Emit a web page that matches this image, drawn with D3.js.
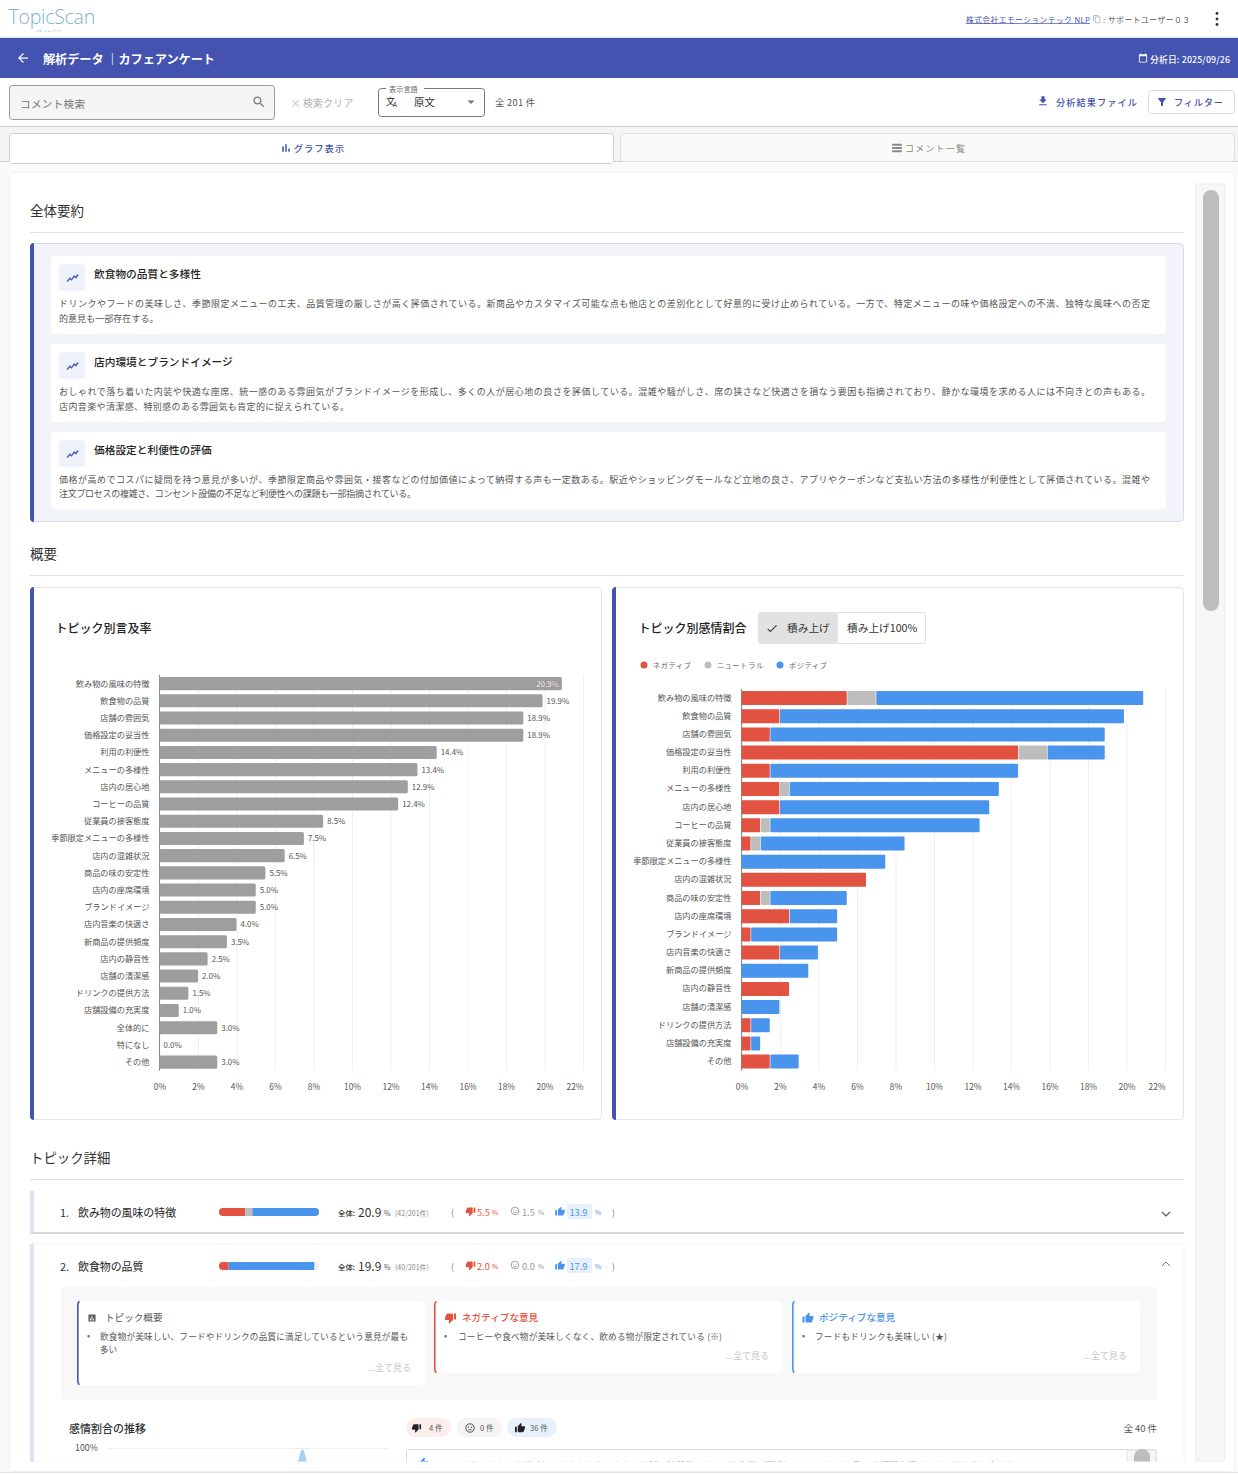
<!DOCTYPE html>
<html lang="ja">
<head>
<meta charset="utf-8">
<title>TopicScan</title>
<script src="https://d3js.org/d3.v7.min.js"></script>
<style>
html, body { margin: 0; padding: 0; background: #fff; }
svg { display: block; }
text { font-family: "Noto Sans CJK JP", "Noto Sans", sans-serif; dominant-baseline: central; }
.axis path { display: none; }
</style>
</head>
<body>
<div id="page"></div>
<script>
// chart data
const topicLabels = ["飲み物の風味の特徴","飲食物の品質","店舗の雰囲気","価格設定の妥当性","利用の利便性","メニューの多様性","店内の居心地","コーヒーの品質","従業員の接客態度","季節限定メニューの多様性","店内の混雑状況","商品の味の安定性","店内の座席環境","ブランドイメージ","店内音楽の快適さ","新商品の提供頻度","店内の静音性","店舗の清潔感","ドリンクの提供方法","店舗設備の充実度","全体的に","特になし","その他"];
const mentionRates = [20.9,19.9,18.9,18.9,14.4,13.4,12.9,12.4,8.5,7.5,6.5,5.5,5.0,5.0,4.0,3.5,2.5,2.0,1.5,1.0,3.0,0.0,3.0];

const sentimentLabels = ["飲み物の風味の特徴","飲食物の品質","店舗の雰囲気","価格設定の妥当性","利用の利便性","メニューの多様性","店内の居心地","コーヒーの品質","従業員の接客態度","季節限定メニューの多様性","店内の混雑状況","商品の味の安定性","店内の座席環境","ブランドイメージ","店内音楽の快適さ","新商品の提供頻度","店内の静音性","店舗の清潔感","ドリンクの提供方法","店舗設備の充実度","その他"];
const negativeRates = [5.5,2.0,1.5,14.4,1.5,2.0,2.0,1.0,0.5,0,6.5,1.0,2.5,0.5,2.0,0,2.5,0,0.5,0.5,1.5];
const neutralRates  = [1.5,0,0,1.5,0,0.5,0,0.5,0.5,0,0,0.5,0,0,0,0,0,0,0,0,0];
const positiveRates = [13.9,17.9,17.4,3.0,12.9,10.9,10.9,10.9,7.5,7.5,0,4.0,2.5,4.5,2.0,3.5,0,2.0,1.0,0.5,1.5];
const sentimentNames = ["ネガティブ","ニュートラル","ポジティブ"];
const rateTicks = [0,2,4,6,8,10,12,14,16,18,20,22];

// topic detail rows: 1. and 2.
const detailTopics = ["飲み物の風味の特徴","飲食物の品質"];
const detailTotals = [20.9,19.9];
const detailCounts = ["(42/201件)","(40/201件)"];
const detailNeg = [5.5,2.0];
const detailNeu = [1.5,0.0];
const detailPos = [13.9,17.9];

// sentiment trend of topic 2, only its top edge is in view
const trendSteps = [0,1,2,3,4,5,6,7,8,9,10,11];
const trendPositive = [0,0,0,0,0,0,0,0,100,0,0,0];

const summaryTitles = ["飲食物の品質と多様性","店内環境とブランドイメージ","価格設定と利便性の評価"];
const summaryLines = [
  ["ドリンクやフードの美味しさ、季節限定メニューの工夫、品質管理の厳しさが高く評価されている。新商品やカスタマイズ可能な点も他店との差別化として好意的に受け止められている。一方で、特定メニューの味や価格設定への不満、独特な風味への否定","的意見も一部存在する。"],
  ["おしゃれで落ち着いた内装や快適な座席、統一感のある雰囲気がブランドイメージを形成し、多くの人が居心地の良さを評価している。混雑や騒がしさ、席の狭さなど快適さを損なう要因も指摘されており、静かな環境を求める人には不向きとの声もある。","店内音楽や清潔感、特別感のある雰囲気も肯定的に捉えられている。"],
  ["価格が高めでコスパに疑問を持つ意見が多いが、季節限定商品や雰囲気・接客などの付加価値によって納得する声も一定数ある。駅近やショッピングモールなど立地の良さ、アプリやクーポンなど支払い方法の多様性が利便性として評価されている。混雑や","注文プロセスの複雑さ、コンセント設備の不足など利便性への課題も一部指摘されている。"]
];

const INDIGO = "#4353af", RED = "#e25241", GREY = "#bdbdbd", BLUE = "#4994ec";
const ICON = {
  up: "M1 21h4V9H1v12zm22-11c0-1.1-.9-2-2-2h-6.31l.95-4.57.03-.32c0-.41-.17-.79-.44-1.06L14.17 1 7.59 7.59C7.22 7.95 7 8.45 7 9v10c0 1.1.9 2 2 2h9c.83 0 1.54-.5 1.84-1.22l3.02-7.05c.09-.23.14-.47.14-.73v-2z",
  down: "M15 3H6c-.83 0-1.54.5-1.84 1.22l-3.02 7.05c-.09.23-.14.47-.14.73v2c0 1.1.9 2 2 2h6.31l-.95 4.57-.03.32c0 .41.17.79.44 1.06L9.83 23l6.59-6.59c.36-.36.58-.86.58-1.41V5c0-1.1-.9-2-2-2zm4 0v12h4V3h-4z",
  search: "M15.5 14h-.79l-.28-.27C15.41 12.59 16 11.11 16 9.5 16 5.91 13.09 3 9.5 3S3 5.91 3 9.5 5.91 16 9.5 16c1.61 0 3.09-.59 4.23-1.57l.27.28v.79l5 4.99L20.49 19l-4.99-5zm-6 0C7.01 14 5 11.99 5 9.5S7.01 5 9.5 5 14 7.01 14 9.5 11.99 14 9.5 14z",
  back: "M20 11H7.83l5.59-5.59L12 4l-8 8 8 8 1.41-1.41L7.83 13H20v-2z",
  download: "M19 9h-4V3H9v6H5l7 7 7-7zM5 18v2h14v-2H5z",
  filter: "M4.25 5.61C6.27 8.2 10 13 10 13v6c0 .55.45 1 1 1h2c.55 0 1-.45 1-1v-6s3.72-4.8 5.74-7.39c.51-.66.04-1.61-.79-1.61H5.04c-.83 0-1.3.95-.79 1.61z",
  check: "M9 16.17L4.83 12l-1.42 1.41L9 19 21 7l-1.41-1.41z",
  bars: "M5 9.2h3V19H5zM10.6 5h2.8v14h-2.8zm5.6 8H19v6h-2.8z",
  list: "M3 4h18v4H3zM3 10h18v4H3zM3 16h18v4H3z",
  calendar: "M19 4h-1V2h-2v2H8V2H6v2H5C3.9 4 3 4.9 3 6v14c0 1.1.9 2 2 2h14c1.1 0 2-.9 2-2V6c0-1.1-.9-2-2-2zm0 16H5V8h14v12z",
  copy: "M16 1H4c-1.1 0-2 .9-2 2v14h2V3h12V1zm3 4H8c-1.1 0-2 .9-2 2v14c0 1.1.9 2 2 2h11c1.1 0 2-.9 2-2V7c0-1.1-.9-2-2-2zm0 16H8V7h11v14z",
  insight: "M2 20l5-6 3 3 5-7 3 3 4-6",
  report: "M3 3h18v18H3zM7 12v6h2v-6zm4-5v11h2V7zm4 7v4h2v-4z"
};

const svg = d3.select("#page").append("svg").attr("width",1238).attr("height",1474);

function rect(x,y,w,h,fill,o={}) {
  return svg.append("rect").attr("x",x).attr("y",y).attr("width",w).attr("height",h)
    .attr("rx",o.r||0).attr("fill",fill).attr("stroke",o.stroke||"none").attr("stroke-width",o.sw||1);
}
function line(x1,y1,x2,y2,color) {
  return svg.append("line").attr("x1",x1).attr("y1",y1).attr("x2",x2).attr("y2",y2).attr("stroke",color);
}
function label(x,y,str,size,fill,o={}) {
  const t = (o.parent||svg).append("text").attr("x",x).attr("y",y).text(str)
    .attr("font-size",size).attr("fill",fill).attr("text-anchor",o.anchor||"start")
    .attr("font-weight",o.weight||400);
  if (o.ls) t.attr("letter-spacing",o.ls);
  if (o.len) t.attr("textLength",o.len).attr("lengthAdjust","spacing");
  return t;
}
// 24x24 material style icon centred on cx,cy
function icon(name,cx,cy,size,fill) {
  const k = size/24;
  return svg.append("path").attr("d",ICON[name])
    .attr("transform",`translate(${cx-size/2},${cy-size/2}) scale(${k})`).attr("fill",fill);
}
function face(cx,cy,r,color) {
  svg.append("circle").attr("cx",cx).attr("cy",cy).attr("r",r).attr("fill","none").attr("stroke",color).attr("stroke-width",0.8);
  [-r*0.35,r*0.35].forEach(d => svg.append("circle").attr("cx",cx+d).attr("cy",cy-r*0.2).attr("r",r*0.13).attr("fill",color));
  line(cx-r*0.4,cy+r*0.4,cx+r*0.4,cy+r*0.4,color).attr("stroke-width",0.7);
}
function card(x,y,w,h,accent) {
  const c = svg.append("g");
  c.append("rect").attr("x",x+0.5).attr("y",y+0.5).attr("width",w-1).attr("height",h-1).attr("rx",4)
    .attr("fill","#fff").attr("stroke","#e2e4ee");
  c.append("path").attr("fill",accent)
    .attr("d",`M${x+4} ${y}C${x+1.5} ${y} ${x} ${y+1.5} ${x} ${y+4}V${y+h-4}C${x} ${y+h-1.5} ${x+1.5} ${y+h} ${x+4} ${y+h}Z`);
}

// ---------- top bars ----------
rect(0,0,1238,1474,"#fafafa");
rect(0,0,1238,37,"#fff");
line(0,37.5,1238,37.5,"#e0e0e0");
label(8.5,16.5,"TopicScan",19.6,"#7fb2c8",{ls:-0.3}).style("font-family","'Open Sans'").attr("font-weight",300);
label(36,31,"エモーションテック",2.8,"#7fb2c8");
label(966,19,"株式会社エモーションテック NLP",7.8,INDIGO,{len:124});
line(966,23.5,1090,23.5,INDIGO).attr("stroke-width",0.7);
icon("copy",1097,19,9,"#9fa8da");
label(1103,19,": サポートユーザー０３",7.8,"#555",{len:87});
[13.5,19,24.5].forEach(y => svg.append("circle").attr("cx",1217).attr("cy",y).attr("r",1.4).attr("fill","#333"));

rect(0,38,1238,40,INDIGO);
icon("back",23,58,15,"#fff");
label(43,59,"解析データ ｜カフェアンケート",12.2,"#fff",{weight:700,len:172});
icon("calendar",1143,58,11,"#fff");
label(1150,59,"分析日: 2025/09/26",8.8,"#fff",{weight:500,len:80});

rect(0,78,1238,48,"#fff");
line(0,126.5,1238,126.5,"#cfcfcf");
rect(9.5,85.5,265,34,"#f5f5f5",{r:3,stroke:"#9a9a9a"});
label(20,103.5,"コメント検索",10.6,"#757575",{ls:0.3});
icon("search",259,102,15,"#757575");
label(290,102.5,"×",11,"#bdbdbd");
label(303,102.5,"検索クリア",9.8,"#b0b0b0",{ls:0.3});
rect(378.5,88.5,106,28,"#fff",{r:3,stroke:"#777"});
rect(386,84,38,8,"#fff");
label(389,88.5,"表示言語",7.2,"#666");
label(386,101.5,"文",9,"#222");
label(393,104,"A",6.5,"#222");
label(414,101.5,"原文",10.4,"#333");
svg.append("path").attr("d",d3.line()([[467.5,100.5],[474.5,100.5],[471,104]])).attr("fill","#757575");
label(495,102,"全 201 件",9.2,"#555",{len:40});
icon("download",1043,101,13,INDIGO);
label(1056,101.5,"分析結果ファイル",9.2,INDIGO,{weight:500,len:81});
rect(1148.5,90.5,86,23,"#fff",{r:3,stroke:"#dcdcdc"});
icon("filter",1162,102,12,INDIGO);
label(1174,101.5,"フィルター",9.2,INDIGO,{weight:500,len:49});

// tabs
rect(0,127,1238,34,"#f5f5f5");
line(0,161.5,1238,161.5,"#d0d0d0");
rect(620.5,133.5,614,28,"#fafafa",{r:3,stroke:"#e0e0e0"});
rect(9.5,133.5,604,30,"#fff",{r:3,stroke:"#cfcfcf"});
rect(10,160,603,3,"#fff");
icon("bars",286,148,13,INDIGO);
label(294,148,"グラフ表示",9,INDIGO,{weight:500,len:50});
icon("list",897,148,13,"#8a8a8a");
label(905,148,"コメント一覧",9,"#8a8a8a",{len:60});

// main panel
rect(9.5,172.5,1225,1299,"#fff",{r:5,stroke:"#f0f0f0"});
rect(1196,184,29,1277,"#f7f7f7",{stroke:"#ececec"});
rect(1203,190,16,421,GREY,{r:8});

// ---------- overall summary ----------
label(30,209.5,"全体要約",13.5,"#333");
line(30,232.5,1184,232.5,"#e0e0e0");
svg.append("rect").attr("x",30.5).attr("y",243.5).attr("width",1153).attr("height",278).attr("rx",4)
  .attr("fill","#f2f4fa").attr("stroke","#d8dcea");
svg.append("path").attr("fill",INDIGO).attr("d","M34 243C31.5 243 30 244.5 30 247V518C30 520.5 31.5 522 34 522Z");
const summaryTops = [256,344,432];
summaryTops.forEach((top,i) => {
  rect(51,top,1115,i==2?77:78,"#fff",{r:4});
  rect(59,top+8,26,27,"#eef2fb",{r:4});
  svg.append("path").attr("d",ICON.insight).attr("fill","none").attr("stroke",INDIGO).attr("stroke-width",2.4)
    .attr("transform",`translate(66,${top+14.5}) scale(0.55)`);
  label(94,top+17.5,summaryTitles[i],10.7,"#222",{weight:500});
  const body1 = summaryLines[i][0], body2 = summaryLines[i][1];
  label(59,top+47.5,body1,9,"#555",{len:1091});
  label(59,top+(i==2?61.5:62.5),body2,9,"#555",{len:i==0?99.5:i==1?290:357});
});

// ---------- overview charts ----------
label(30,552.5,"概要",13.5,"#333");
line(30,575.5,1184,575.5,"#e0e0e0");
card(30,587,572,533,INDIGO);
card(612,587,572,533,INDIGO);
label(55.5,627,"トピック別言及率",12,"#222",{weight:500});
label(638.5,627.5,"トピック別感情割合",12,"#222",{weight:500});
rect(758.5,612.5,167,31,"#fff",{r:2,stroke:"#e0e0e0"});
rect(759,613,79,30,"#e2e2e2",{r:2});
icon("check",772,628.5,13,"#333");
label(787,627.5,"積み上げ",10.7,"#333");
label(847,627.5,"積み上げ100%",10.7,"#333");

const legendX = [644,708,780];
[RED,GREY,BLUE].forEach((c,i) => {
  svg.append("circle").attr("cx",legendX[i]).attr("cy",665).attr("r",3.5).attr("fill",c);
  label(legendX[i]+9,664.5,sentimentNames[i],7.2,"#666",{ls:0.6});
});

function drawAxes(g,x,y,h,labelShift) {
  // grid first, then the tick texts; 22% is pulled inside like the reference
  const grid = g.append("g").attr("class","axis").attr("transform",`translate(0,${h})`)
    .call(d3.axisBottom(x).tickValues(rateTicks).tickSize(-h).tickPadding(11).tickFormat(d => d+"%"));
  grid.selectAll("line").attr("stroke","#efefef");
  grid.selectAll("text").attr("font-size",8.4).attr("fill","#555").attr("dy",0).attr("y",15)
    .attr("font-family",'"Noto Sans CJK JP"').style("dominant-baseline","central");
  grid.selectAll("text").filter(d => d==22).attr("text-anchor","end");
  const left = g.append("g").attr("class","axis").call(d3.axisLeft(y).tickSize(0).tickPadding(10));
  left.selectAll("text").attr("font-size",8.2).attr("fill","#555").attr("font-family",'"Noto Sans CJK JP"')
    .attr("dy",labelShift);
  g.append("line").attr("y1",0).attr("y2",h).attr("x1",0).attr("x2",0).attr("stroke","#888");
}

// left chart: mention rate
const mentionH = 395.7;
const mentionX = d3.scaleLinear().domain([0,22]).range([0,423.5]);
const mentionY = d3.scaleBand().domain(topicLabels).range([0,mentionH]).paddingInner(0.24).paddingOuter(0.12);
const mentionG = svg.append("g").attr("transform","translate(159.5,675)");
drawAxes(mentionG,mentionX,mentionY,mentionH,-1);
mentionG.selectAll("rect.bar").data(mentionRates).enter().append("rect").attr("class","bar")
  .attr("x",0).attr("y",(d,i) => mentionY(topicLabels[i])).attr("height",mentionY.bandwidth())
  .attr("width",d => mentionX(d)).attr("rx",1.5).attr("fill","#9e9e9e");
mentionG.selectAll("text.val").data(mentionRates).enter().append("text").attr("class","val")
  .attr("x",(d,i) => i==0 ? mentionX(d)-3 : mentionX(d)+4)
  .attr("y",(d,i) => mentionY(topicLabels[i])+mentionY.bandwidth()/2-0.5)
  .attr("text-anchor",(d,i) => i==0 ? "end" : "start")
  .attr("font-size",7.9)
  .attr("fill",(d,i) => i==0 ? "#fff" : "#555")
  .attr("stroke",(d,i) => i==0 ? "#777" : "none").attr("stroke-width",0.5).attr("paint-order","stroke")
  .text(d => d.toFixed(1)+"%");

// right chart: sentiment stack
const stackH = 381.7;
const stackX = d3.scaleLinear().domain([0,22]).range([0,423.5]);
const stackY = d3.scaleBand().domain(sentimentLabels).range([0,stackH]).paddingInner(0.23).paddingOuter(0.115);
const stackG = svg.append("g").attr("transform","translate(741.5,689)");
drawAxes(stackG,stackX,stackY,stackH,-1.5);
const stackRows = sentimentLabels.map((t,i) => ({topic:t,neg:negativeRates[i],neu:neutralRates[i],pos:positiveRates[i]}));
const layers = d3.stack().keys(["neg","neu","pos"])(stackRows);
const layerColor = d3.scaleOrdinal().domain(["neg","neu","pos"]).range([RED,GREY,BLUE]);
stackG.selectAll("g.layer").data(layers).enter().append("g").attr("class","layer").attr("fill",d => layerColor(d.key))
  .selectAll("rect").data(d => d).enter().append("rect")
  .attr("y",d => stackY(d.data.topic)).attr("height",stackY.bandwidth()).attr("rx",0.8)
  .attr("x",d => stackX(d[0])).attr("width",d => Math.max(0,stackX(d[1])-stackX(d[0])-(d[1]-d[0]>0?0.6:0)));

// ---------- topic details ----------
label(30,1156.5,"トピック詳細",13.4,"#333");
line(30,1179.5,1184,1179.5,"#e0e0e0");

rect(30,1192,1154,41,"#fff");
line(30,1233,1184,1233,"#b5b5b5");
rect(30,1191,4,42,"#dfe2f4");
rect(30,1244,1154,218,"#fff",{stroke:"#f2f2f2"});
rect(30,1244,4,218,"#dfe2f4");
const rowY = [1211.5,1265.5];
const miniX = d3.scaleLinear().domain([0,20.9]).range([219,319]);
detailTopics.forEach((name,i) => {
  const y = rowY[i];
  label(60,y,(i+1)+".",10.9,"#333");
  label(78,y,name,10.9,"#222");
  rect(219,y-3.5,100,8,"#eeeeee",{r:4});
  const c1 = svg.append("clipPath").attr("id","mini"+i);
  c1.append("rect").attr("x",219).attr("y",y-3.5).attr("width",100).attr("height",8).attr("rx",4);
  const g = svg.append("g").attr("clip-path",`url(#mini${i})`);
  let acc = 0;
  [[detailNeg[i],RED],[detailNeu[i],GREY],[detailPos[i],BLUE]].forEach(p => {
    g.append("rect").attr("x",miniX(acc)).attr("y",y-3.5).attr("width",miniX(p[0])-miniX(0)).attr("height",8).attr("fill",p[1]);
    acc += p[0];
  });
  label(338,y+1,"全体:",7.4,"#333",{weight:500});
  label(358,y-0.5,detailTotals[i].toFixed(1),12,"#333");
  label(384,y+1,"%",7,"#555");
  label(395,y+1,detailCounts[i],7,"#888");
  label(451,y,"(",8.5,"#777");
  icon("down",470.5,y,10.5,RED);
  label(477,y,detailNeg[i].toFixed(1),9.2,RED);
  label(492,y+0.5,"%",6.8,RED);
  face(515,y-0.5,3.8,"#8a8a8a");
  label(522,y,detailNeu[i].toFixed(1),9.2,"#999");
  label(538,y+0.5,"%",6.8,"#999");
  icon("up",560,y,10.5,BLUE);
  rect(567,y-7.5,25,15,"#e6f1fc",{r:2});
  label(569.5,y,detailPos[i].toFixed(1),9.2,BLUE);
  label(595,y+0.5,"%",6.8,BLUE);
  label(612,y,")",8.5,"#777");
});
svg.append("path").attr("d","M1162 1212l4 4 4-4").attr("fill","none").attr("stroke","#555").attr("stroke-width",1.2);
svg.append("path").attr("d","M1162 1266l4-4 4 4").attr("fill","none").attr("stroke","#777").attr("stroke-width",1);

// three opinion cards
rect(61,1287,1096,113,"#f8f8f8",{r:4});
function opinion(x,w,h,color) {
  rect(x,1301,w,h,"#fff",{r:5});
  svg.append("path").attr("fill","none").attr("stroke",color).attr("stroke-width",1.6)
    .attr("d",`M${x+2.5} 1301.5C${x+1} 1302 ${x+0.8} 1304 ${x+0.8} 1306V${1301+h-5}C${x+0.8} ${1301+h-3} ${x+1} ${1301+h-1} ${x+2.5} ${1301+h-0.5}`);
}
opinion(77,348,84,INDIGO);
opinion(434,349,72,RED);
opinion(792,348,72,BLUE);
icon("report",92,1318,9.5,"#616161");
label(105,1317,"トピック概要",9.6,"#555");
icon("down",450.5,1318,12,RED);
label(462,1317,"ネガティブな意見",9.6,RED,{weight:500});
icon("up",808,1318,12,BLUE);
label(819,1317,"ポジティブな意見",9.6,BLUE,{weight:500});
label(87,1335.5,"•",9,"#666");
label(100,1335.5,"飲食物が美味しい、フードやドリンクの品質に満足しているという意見が最も",8.6,"#555",{len:308});
label(100,1348.5,"多い",8.6,"#555");
label(444,1335.5,"•",9,"#666");
label(458,1335.5,"コーヒーや食べ物が美味しくなく、飲める物が限定されている (※)",8.6,"#555",{len:264});
label(802,1335.5,"•",9,"#666");
label(815,1335.5,"フードもドリンクも美味しい (★)",8.6,"#555",{len:132});
label(411,1367.5,"...全て見る",9,"#c4c4c4",{anchor:"end"});
label(769,1355.5,"...全て見る",9,"#c4c4c4",{anchor:"end"});
label(1127,1355.5,"...全て見る",9,"#c4c4c4",{anchor:"end"});

// trend and chips
label(69,1427.5,"感情割合の推移",11,"#333",{weight:500});
label(75,1447.5,"100%",8.8,"#555");
line(107,1448.5,388,1448.5,"#eeeeee");
const trendX = d3.scaleLinear().domain([0,11.5]).range([107,388]);
const trendY = d3.scaleLinear().domain([0,100]).range([1598,1449.5]);
const clipTrend = svg.append("clipPath").attr("id","clipTrend");
clipTrend.append("rect").attr("x",0).attr("y",0).attr("width",1238).attr("height",1461.5);
svg.append("path").attr("clip-path","url(#clipTrend)")
  .attr("d",d3.area().x((d,i) => trendX(trendSteps[i])).y0(trendY(0)).y1(d => trendY(d)).curve(d3.curveMonotoneX)(trendPositive))
  .attr("fill","#a9cff5");

rect(406,1418,45,19,"#fdeeee",{r:9.5});
icon("down",416.5,1428,10,"#222");
label(429,1427.5,"4 件",7.6,"#555");
rect(457,1418,45,19,"#f4f4f4",{r:9.5});
face(470,1428,4.2,"#222");
label(480,1427.5,"0 件",7.6,"#555");
rect(507,1418,50,19,"#e6f1fc",{r:9.5});
icon("up",520,1428,11,"#222");
label(530,1427.5,"36 件",7.6,"#555");
label(1157,1427.5,"全 40 件",9.4,"#555",{anchor:"end"});

// comment box, cut off by the panel edge
const box = svg.append("g").attr("clip-path","url(#clipTrend)");
box.append("rect").attr("x",406.5).attr("y",1449.5).attr("width",750).attr("height",30).attr("rx",2).attr("fill","#fff").attr("stroke","#dcdcdc");
box.append("rect").attr("x",1127).attr("y",1450).attr("width",29).attr("height",30).attr("fill","#f5f5f5").attr("stroke","#e4e4e4");
box.append("rect").attr("x",1134).attr("y",1449).attr("width",16).attr("height",40).attr("rx",8).attr("fill",GREY);
box.append("path").attr("d",ICON.up).attr("fill",BLUE).attr("transform","translate(417,1457) scale(0.5)");
label(434,1465,"フードはおいしかった美味しいかもしれないかな。店舗・時間帯によっては非常に混雑しているときや、静かな場所を探すときにはあまり向かない",9,"#444",{len:590,parent:box});

// white strip under the panel's visible area
rect(10,1462,1224,9,"#fff");
line(0,1472.5,1238,1472.5,"#e6e6e6");
</script>
</body>
</html>
